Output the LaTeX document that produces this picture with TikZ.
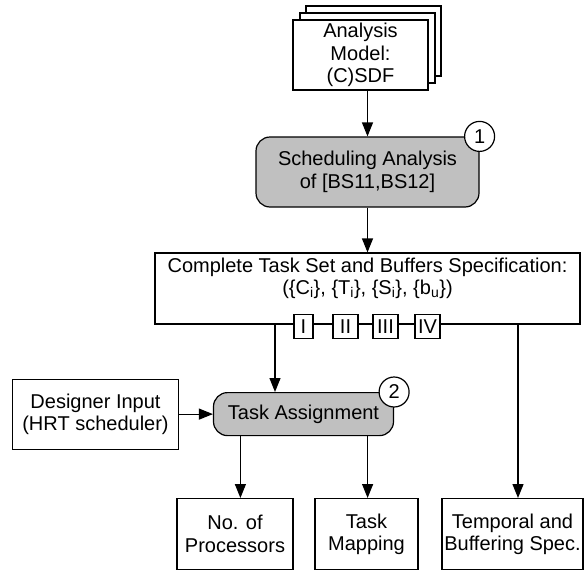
\documentclass[tikz,border=0pt]{standalone}
\usepackage{fontspec}
\setmainfont{Liberation Sans}
\usetikzlibrary{arrows.meta, positioning}
\definecolor{stageGray}{RGB}{192,192,192}
\tikzstyle{block} = [draw, fill=white, rectangle, align=center, inner sep=0pt]
\tikzstyle{stage} = [draw, fill=stageGray, rectangle, rounded corners=14pt, align=center, inner sep=0pt]
\tikzstyle{tag} = [draw, fill=white, circle, minimum size=30pt, inner sep=0pt]
\tikzstyle{port} = [draw, fill=white, rectangle, minimum height=24pt, inner sep=0pt]

\begin{document}
\begin{tikzpicture}[x=1pt, y=1pt, node distance=2cm, line width=1.2pt, >={Triangle[length=14pt,width=11pt]}, font=\fontsize{20}{22.5}\selectfont]
        \useasboundingbox (0,0) rectangle (586,-570);
        % We start by placing the blocks
        \node [block, minimum width=135pt, minimum height=70pt] (modelBack) at (373.5,-41) {};
        \node [block, minimum width=135pt, minimum height=70pt] (modelMid) at (367.5,-48) {};
        \node [block, minimum width=135pt, minimum height=70pt] (model) at (360.5,-55) {Analysis\\Model:\\(C)SDF};
        \node [stage, below of=modelMid, node distance=124pt, minimum width=223pt, minimum height=70pt] (schedAnalysis) {Scheduling Analysis\\of [BS11,BS12]};
        \node [tag] (tagOne) at (schedAnalysis.north east) {1};
        \node [block, below of=schedAnalysis, node distance=116.5pt, minimum width=425pt, minimum height=71pt] (taskSet) {Complete Task Set and Buffers Specification:\\(\{C\textsubscript{i}\}, \{T\textsubscript{i}\}, \{S\textsubscript{i}\}, \{b\textsubscript{u}\})\\[2pt]};
        \node [port, minimum width=19pt] (portI) at ([xshift=-64pt, yshift=-2pt]taskSet.south) {I};
        \node [port, minimum width=25pt] (portII) at ([xshift=-22pt, yshift=-2pt]taskSet.south) {II};
        \node [port, minimum width=25pt] (portIII) at ([xshift=18pt, yshift=-2pt]taskSet.south) {III};
        \node [port, minimum width=25pt] (portIV) at ([xshift=60pt, yshift=-2pt]taskSet.south) {IV};
        \node [stage, below of=portI, node distance=87.5pt, minimum width=180pt, minimum height=43pt] (taskAssign) {Task Assignment};
        \node [tag] (tagTwo) at (taskAssign.north east) {2};
        \node [block, left of=taskAssign, node distance=208pt, minimum width=166pt, minimum height=70pt] (designer) {Designer Input\\(HRT scheduler)};
        \node [block, below of=taskAssign, node distance=120pt, xshift=-68.5pt, minimum width=116pt, minimum height=71pt] (numProc) {No. of\\Processors};
        \node [block, right of=numProc, node distance=131.5pt, minimum width=103pt, minimum height=71pt] (taskMap) {Task\\Mapping};
        \node [block, right of=taskMap, node distance=146pt, minimum width=141pt, minimum height=71pt] (temporalSpec) {Temporal and\\Buffering Spec.};

        % Once the nodes are placed, connecting them is easy.
        \draw [->] (model.south -| schedAnalysis.north) -- (schedAnalysis.north);
        \draw [->] (schedAnalysis) -- (taskSet);
        \draw [->] ([xshift=-92.5pt]taskSet.south) -- ([xshift=-92.5pt]taskSet.south |- taskAssign.north);
        \draw [->] ([xshift=150.5pt]taskSet.south) -- ([xshift=150.5pt]taskSet.south |- temporalSpec.north);
        \draw [->] (designer) -- (taskAssign);
        \draw [->] ([xshift=27.5pt]taskAssign.south west) -- ([xshift=27.5pt]taskAssign.south west |- numProc.north);
        \draw [->] ([xshift=-26.5pt]taskAssign.south east) -- ([xshift=-26.5pt]taskAssign.south east |- taskMap.north);
    \end{tikzpicture}
\end{document}
